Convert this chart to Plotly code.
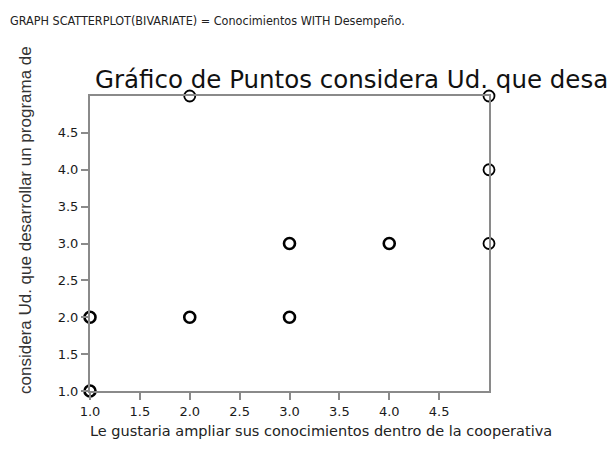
import plotly.graph_objects as go
from collections import Counter

# Data (Conocimientos vs Desempeño); repeated pairs = overlapping cases
x_vals = [1, 1, 1, 1, 2, 2, 3, 3, 3, 3, 4, 4, 5, 5, 5, 2]
y_vals = [1, 1, 2, 2, 2, 2, 2, 2, 3, 3, 3, 3, 3, 4, 5, 5]
tick_vals = [1.0, 1.5, 2.0, 2.5, 3.0, 3.5, 4.0, 4.5]
tick_text = ["1.0", "1.5", "2.0", "2.5", "3.0", "3.5", "4.0", "4.5"]

counts = Counter(zip(x_vals, y_vals))
ux = [p[0] for p in counts]
uy = [p[1] for p in counts]
lw = [2.6 if counts[p] > 1 else 1.8 for p in counts]

W, H = 616, 467
L, R, T, B = 82, 135, 88, 84
PW, PH = W - L - R, H - T - B


def px(x):
    return (x - L) / PW


def py(y):
    return (H - B - y) / PH


fig = go.Figure()
fig.add_trace(go.Scatter(
    x=ux, y=uy, mode="markers", cliponaxis=False,
    marker=dict(symbol="circle-open", size=11, color="black",
                line=dict(color="black", width=lw)),
    hoverinfo="x+y", showlegend=False))

axis_common = dict(range=[1, 5], showline=True, mirror=True, linecolor="#8a8a8a",
                   linewidth=2, ticks="outside", ticklen=7, tickcolor="#8a8a8a",
                   tickwidth=1.5, showgrid=False, zeroline=False,
                   tickvals=tick_vals, ticktext=tick_text,
                   tickfont=dict(family="DejaVu Sans", size=13, color="#1a1a1a"))

fig.update_layout(
    width=W, height=H, margin=dict(l=L, r=R, t=T, b=B),
    paper_bgcolor="white", plot_bgcolor="white",
    xaxis=dict(**axis_common),
    yaxis=dict(**axis_common),
    annotations=[
        dict(text="GRAPH SCATTERPLOT(BIVARIATE) = Conocimientos WITH Desempeño.",
             xref="paper", yref="paper", x=px(0), y=py(12),
             xanchor="left", yanchor="middle", showarrow=False,
             font=dict(family="DejaVu Sans Condensed", size=12.5, color="#222222")),
        dict(text="Gráfico de Puntos considera Ud. que desarrollar un programa de",
             xref="paper", yref="paper", x=px(85), y=py(71),
             xanchor="left", yanchor="middle", showarrow=False,
             font=dict(family="DejaVu Sans", size=24.5, color="#111111")),
        dict(text="considera Ud. que desarrollar un programa de",
             xref="paper", yref="paper", x=px(17), y=py(212),
             xanchor="center", yanchor="middle", textangle=-90, showarrow=False,
             font=dict(family="Liberation Sans", size=17, color="#333333")),
        dict(text="Le gustaria ampliar sus conocimientos dentro de la cooperativa",
             xref="paper", yref="paper", x=px(313), y=py(423),
             xanchor="center", yanchor="middle", showarrow=False,
             font=dict(family="DejaVu Sans", size=14.5, color="#222222")),
    ],
)

fig.write_html("out.html")
